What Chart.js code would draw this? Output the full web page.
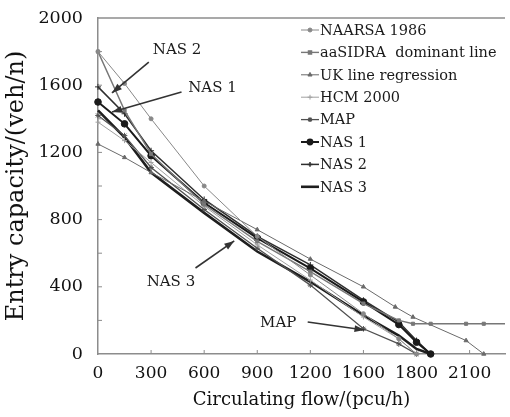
<!DOCTYPE html>
<html>
<head>
<meta charset="utf-8">
<script src="https://cdn.jsdelivr.net/npm/chart.js@4/dist/chart.umd.min.js"></script>
<style>
  html,body{margin:0;padding:0;background:#fff;}
  #wrap{width:510px;height:417px;position:relative;}
</style>
</head>
<body>
<div id="wrap"><canvas id="c"></canvas></div>
<script>
/* entry capacity vs circulating flow */
const xTickVals   = [0,300,600,900,1200,1500,1800,2100];
const xTickLabels = ['0','300','600','900','1200','1600','1800','2100'];
const yTickVals   = [0,400,800,1200,1600,2000];

const naarsaX  = [0,150,300,600,900,1200,1500,1700,1800];
const naarsaY  = [1800,1610,1400,1000,700,470,240,90,0];
const sidraX   = [0,150,300,600,900,1200,1500,1700,1780,1880,2080,2180,2300];
const sidraY   = [1800,1450,1190,890,670,490,300,200,180,180,180,180,180];
const ukX      = [0,150,300,600,900,1200,1500,1680,1780,2080,2180];
const ukY      = [1250,1170,1080,910,740,565,400,280,220,80,0];
const hcmX     = [0,150,300,600,900,1200,1500,1700,1800];
const hcmY     = [1380,1270,1140,880,650,440,220,90,0];
const mapX     = [0,150,300,600,900,1200,1500,1700,1800];
const mapY     = [1420,1300,1110,860,630,410,150,60,0];
const nasX     = [0,150,300,600,900,1200,1500,1700,1800,1880];
const nas1Y    = [1500,1370,1180,900,690,510,310,175,70,0];
const nas2Y    = [1590,1430,1210,920,700,530,320,190,80,0];
const nas3Y    = [1450,1290,1080,840,610,430,230,110,30,0];

// callouts: label position, arrow tail, arrow tip (data units)
const callouts = [
  {text:'NAS 2', at:[310,1810], from:[287,1738], to:[79,1554]},
  {text:'NAS 1', at:[510,1583], from:[472,1560], to:[79,1440]},
  {text:'NAS 3', at:[275,429],  from:[551,512],  to:[770,673]},
  {text:'MAP',   at:[916,185],  from:[1185,190], to:[1506,143]}
];

const SERIF='"DejaVu Serif", serif';
const pts=(xs,ys)=>xs.map((x,i)=>({x,y:ys[i]}));

function ds(label,xs,ys,color,width,style,radius,extra){
  return Object.assign({label,data:pts(xs,ys),borderColor:color,backgroundColor:color,borderWidth:width,
    pointStyle:style,pointRadius:radius,pointBorderColor:color,pointBackgroundColor:color,pointBorderWidth:1,
    tension:0,clip:false},extra||{});
}

const datasets=[
  ds('NAARSA 1986',naarsaX,naarsaY,'#888',1,'circle',2),
  ds('aaSIDRA  dominant line',sidraX,sidraY,'#777',1.4,'rect',2.2,
     {pointRadius:sidraX.map((x,i)=>i===sidraX.length-1?0:2.2)}),
  ds('UK line regression',ukX,ukY,'#6a6a6a',1,'triangle',2.4),
  ds('HCM 2000',hcmX,hcmY,'#a0a0a0',1,'cross',2.5),
  ds('MAP',mapX,mapY,'#505050',1.3,'star',2.8),
  ds('NAS 1',nasX,nas1Y,'#1a1a1a',2,'circle',3.3),
  ds('NAS 2',nasX,nas2Y,'#2e2e2e',1.5,'cross',3),
  ds('NAS 3',nasX,nas3Y,'#1e1e1e',2.6,'circle',0)
];

const decor={
  id:'decor',
  afterDatasetsDraw(chart){
    const {ctx,chartArea:a,scales:{x,y}}=chart;
    const H=Chart.helpers;
    ctx.save();
    // frame top + inside ticks
    ctx.strokeStyle='#8c8c8c';ctx.lineWidth=1.5;
    ctx.beginPath();ctx.moveTo(a.left,a.top);ctx.lineTo(a.right,a.top);ctx.stroke();
    ctx.lineWidth=1;
    for(let v=200;v<2000;v+=200){const py=y.getPixelForValue(v);ctx.beginPath();ctx.moveTo(a.left,py);ctx.lineTo(a.left+4,py);ctx.stroke();}
    xTickVals.slice(1).forEach(v=>{const px=x.getPixelForValue(v);ctx.beginPath();ctx.moveTo(px,a.bottom);ctx.lineTo(px,a.bottom-4);ctx.stroke();});

    // legend
    ctx.font='14.5px '+SERIF;ctx.textBaseline='middle';ctx.textAlign='left';
    chart.data.datasets.forEach((d,i)=>{
      const ly=a.top+12+i*22.4, lx=301;
      ctx.strokeStyle=d.borderColor;ctx.lineWidth=d.borderWidth;
      ctx.beginPath();ctx.moveTo(lx,ly);ctx.lineTo(lx+18,ly);ctx.stroke();
      const r=Array.isArray(d.pointRadius)?d.pointRadius[0]:d.pointRadius;
      if(r>0){ctx.fillStyle=d.borderColor;H.drawPoint(ctx,{pointStyle:d.pointStyle,radius:Math.min(r,2.4),rotation:0,borderWidth:1},lx+9,ly);}
      ctx.fillStyle='#1a1a1a';ctx.fillText(d.label,lx+19,ly+1);
    });

    // callouts
    callouts.forEach(c=>{
      const fx=x.getPixelForValue(c.from[0]),fy=y.getPixelForValue(c.from[1]);
      const tx=x.getPixelForValue(c.to[0]),ty=y.getPixelForValue(c.to[1]);
      ctx.strokeStyle='#333';ctx.fillStyle='#333';ctx.lineWidth=1.6;
      ctx.beginPath();ctx.moveTo(fx,fy);ctx.lineTo(tx,ty);ctx.stroke();
      const ang=Math.atan2(ty-fy,tx-fx),L=10,W=3.5;
      ctx.beginPath();ctx.moveTo(tx,ty);
      ctx.lineTo(tx-L*Math.cos(ang)+W*Math.sin(ang),ty-L*Math.sin(ang)-W*Math.cos(ang));
      ctx.lineTo(tx-L*Math.cos(ang)-W*Math.sin(ang),ty-L*Math.sin(ang)+W*Math.cos(ang));
      ctx.closePath();ctx.fill();
      ctx.fillStyle='#1a1a1a';ctx.font='15px '+SERIF;ctx.textAlign='left';ctx.textBaseline='middle';
      ctx.fillText(c.text,x.getPixelForValue(c.at[0]),y.getPixelForValue(c.at[1]));
    });
    ctx.restore();
  }
};

new Chart(document.getElementById('c'),{
  type:'line',
  data:{datasets},
  options:{
    responsive:true,maintainAspectRatio:false,animation:false,
    layout:{padding:{top:18,right:0,left:0,bottom:0}},
    plugins:{legend:{display:false},tooltip:{enabled:false}},
    scales:{
      x:{type:'linear',min:0,max:2300,
        border:{color:'#8c8c8c',width:1.5},grid:{display:false},
        afterBuildTicks:s=>{s.ticks=xTickVals.map(v=>({value:v}));},
        ticks:{autoSkip:false,maxRotation:0,padding:1,color:'#111',font:{family:SERIF,size:17},
          callback:v=>xTickLabels[xTickVals.indexOf(v)]},
        title:{display:true,text:'Circulating flow/(pcu/h)',color:'#111',font:{family:SERIF,size:18},padding:{top:0,bottom:6}},
        afterFit:s=>{s.height=63;}
      },
      y:{min:0,max:2000,
        border:{color:'#8c8c8c',width:1.5},grid:{display:false},
        afterBuildTicks:s=>{s.ticks=yTickVals.map(v=>({value:v}));},
        ticks:{padding:7,color:'#111',font:{family:SERIF,size:17.5},callback:v=>String(v)},
        title:{display:true,text:'Entry capacity/(veh/n)',color:'#111',font:{family:SERIF,size:24},padding:{top:2,bottom:2}},
        afterFit:s=>{s.width=98;}
      }
    }
  },
  plugins:[decor]
});
</script>
</body>
</html>
